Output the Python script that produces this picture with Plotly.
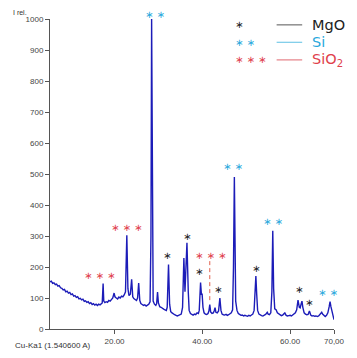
import plotly.graph_objects as go

# ---------------- data ----------------
two_theta = [5.3, 5.6, 5.9, 6.2, 6.5, 6.8, 7.1, 7.4, 7.7, 8.0, 8.3, 8.6, 8.9, 9.2, 9.5, 9.8,
             10.1, 10.4, 10.7, 11.0, 11.3, 11.6, 11.9, 12.2, 12.5, 12.8, 13.1, 13.4, 13.7, 14.0,
             14.3, 14.6, 14.9, 15.2, 15.5, 15.8, 16.1, 16.4, 16.7, 17.0, 17.2, 17.4, 17.55, 17.8,
             18.1, 18.4, 18.7, 19.0, 19.3, 19.6, 19.9, 20.1, 20.4, 20.7, 21.0, 21.3, 21.6, 21.9,
             22.2, 22.5, 22.8, 23.05, 23.3, 23.6, 23.9, 24.15, 24.4, 24.7, 25.0, 25.25, 25.5,
             25.75, 26.0, 26.3, 26.6, 26.9, 27.2, 27.5, 27.8, 28.1, 28.3, 28.45, 28.6, 28.8, 29.1,
             29.4, 29.6, 29.8, 30.0, 30.3, 30.6, 30.9, 31.2, 31.5, 31.8, 32.0, 32.3, 32.55, 32.8,
             33.1, 33.4, 33.7, 34.0, 34.3, 34.6, 34.9, 35.2, 35.5, 35.8, 36.05, 36.2, 36.5, 36.8,
             37.0, 37.3, 37.6, 37.9, 38.2, 38.5, 38.8, 39.1, 39.3, 39.6, 39.8, 39.95, 40.15, 40.4,
             40.7, 41.0, 41.3, 41.5, 41.7, 41.9, 42.2, 42.5, 42.7, 42.9, 43.1, 43.4, 43.7, 44.0,
             44.25, 44.5, 44.8, 45.1, 45.4, 45.7, 46.0, 46.3, 46.6, 46.9, 47.1, 47.3, 47.45, 47.6,
             47.9, 48.2, 48.5, 48.8, 49.1, 49.4, 49.7, 50.0, 50.3, 50.6, 50.9, 51.2, 51.5, 51.8,
             52.0, 52.2, 52.4, 52.6, 52.9, 53.2, 53.5, 53.8, 54.1, 54.4, 54.6, 54.8, 55.0, 55.3,
             55.6, 55.85, 56.05, 56.25, 56.5, 56.8, 57.1, 57.4, 57.7, 58.0, 58.3, 58.6, 58.8, 59.1,
             59.4, 59.7, 60.0, 60.3, 60.6, 60.9, 61.2, 61.5, 61.8, 62.1, 62.3, 62.5, 62.7, 62.9,
             63.2, 63.5, 63.8, 64.1, 64.4, 64.7, 65.0, 65.3, 65.6, 65.9, 66.2, 66.5, 66.8, 67.0,
             67.2, 67.4, 67.7, 68.0, 68.3, 68.6, 68.9, 69.1, 69.3, 69.6, 69.8, 70.0]
intensity = [152, 154, 147, 149, 143, 145, 138, 140, 133, 131, 126, 128, 120, 122, 116, 118,
             111, 113, 106, 108, 102, 104, 97, 99, 94, 96, 89, 91, 86, 88,
             82, 85, 79, 82, 77, 80, 76, 80, 78, 82, 84, 147, 90, 85,
             88, 86, 92, 90, 97, 100, 116, 104, 100, 97, 103, 100, 106, 104,
             110, 120, 302, 130, 108, 112, 160, 104, 98, 95, 92, 100, 148,
             92, 82, 79, 76, 78, 74, 77, 80, 88, 300, 1000, 300, 90, 80,
             76, 82, 119, 84, 72, 70, 66, 64, 62, 60, 70, 208, 80, 56,
             52, 48, 46, 44, 42, 44, 45, 48, 70, 229, 120, 160, 278, 120,
             60, 50, 46, 45, 48, 46, 52, 50, 60, 150, 110, 114, 70, 52,
             48, 47, 50, 58, 79, 55, 50, 52, 58, 69, 54, 52, 58, 100,
             60, 48, 46, 45, 47, 44, 46, 48, 52, 62, 200, 490, 300, 90,
             60, 50, 47, 44, 45, 42, 44, 43, 41, 44, 42, 45, 48, 60,
             110, 171, 110, 60, 48, 44, 43, 42, 44, 47, 50, 54, 48, 46,
             52, 120, 317, 130, 65, 62, 52, 48, 44, 43, 45, 50, 52, 44,
             42, 43, 44, 42, 45, 47, 52, 62, 93, 70, 68, 80, 90, 70,
             52, 48, 46, 47, 58, 45, 42, 43, 41, 42, 40, 42, 46, 50,
             54, 48, 42, 40, 44, 52, 72, 88, 72, 50, 38, 30]

# peak labels: position (2theta, I), phase
label_x = [29.15, 16.65, 22.8, 32.05, 36.5, 39.35, 41.9, 43.6, 47.1, 52.2, 56.05, 62.0, 64.4, 68.65]
label_y = [1000, 172, 329, 236, 299, 187, 236, 126, 524, 194, 347, 126, 85, 117]
label_shift = [5, 0, 0, 0, 0, 0, 0, 0, 0, 0, 0, 0, 0, 0]
label_phase = ["Si", "SiO2", "SiO2", "MgO", "MgO", "MgO", "SiO2", "MgO", "Si", "MgO", "Si", "MgO", "MgO", "Si"]

# dashed marker line for SiO2 peak
dash_x = [41.7, 41.7]
dash_y = [219, 92]

phases = ["MgO", "Si", "SiO2"]
phase_names = ["MgO", "Si", "SiO<sub>2</sub>"]
phase_marks = ["∗", "∗ ∗", "∗ ∗ ∗"]
phase_colors = {"MgO": "#222222", "Si": "#2aa8dc", "SiO2": "#e0404c"}
line_colors = {"MgO": "#555555", "Si": "#5cc0e4", "SiO2": "#e06870"}

x_ticks = [20, 40, 60, 70]
x_ticktext = ["20.00", "40.00", "60.00", "70,00"]
y_ticks = [0, 100, 200, 300, 400, 500, 600, 700, 800, 900, 1000]

# ---------------- figure ----------------
fig = go.Figure()
fig.add_trace(go.Scatter(x=two_theta, y=intensity, mode="lines",
                         line=dict(color="#1c1cb8", width=1.4), showlegend=False,
                         hoverinfo="skip", cliponaxis=False))
fig.add_trace(go.Scatter(x=dash_x, y=dash_y, mode="lines",
                         line=dict(color="#e0604c", width=1, dash="4px,3px"),
                         showlegend=False, hoverinfo="skip"))

mark_for = dict(zip(phases, phase_marks))
for lx, ly, sh, ph in zip(label_x, label_y, label_shift, label_phase):
    fig.add_annotation(x=lx, y=ly, xref="x", yref="y", text=mark_for[ph], yshift=sh,
                       showarrow=False, font=dict(family="DejaVu Sans", size=10,
                                                  color=phase_colors[ph]),
                       xanchor="center", yanchor="middle")

# legend (top right)
leg_y = [0.981, 0.925, 0.868]
for ph, nm, mk, yy in zip(phases, phase_names, phase_marks, leg_y):
    fig.add_annotation(x=0.643, y=yy, xref="paper", yref="paper", text=mk,
                       showarrow=False, xanchor="left", yanchor="middle",
                       font=dict(family="DejaVu Sans", size=10, color=phase_colors[ph]))
    fig.add_shape(type="line", xref="paper", yref="paper", x0=0.798, x1=0.888,
                  y0=yy, y1=yy, line=dict(color=line_colors[ph], width=1))
    fig.add_annotation(x=0.915, y=yy, xref="paper", yref="paper", text=nm,
                       showarrow=False, xanchor="left", yanchor="middle",
                       font=dict(family="DejaVu Sans", size=14.5, color=phase_colors[ph]))

fig.add_annotation(x=-0.107, y=1.022, xref="paper", yref="paper", text="I rel.",
                   showarrow=False, xanchor="center", yanchor="middle",
                   font=dict(family="Liberation Sans", size=7, color="#333333"))
fig.add_annotation(x=-0.131, y=-0.053, xref="paper", yref="paper",
                   text="Cu-Ka1 (1.540600 A)", showarrow=False,
                   xanchor="left", yanchor="middle",
                   font=dict(family="Liberation Sans", size=8, color="#333333"))

fig.update_layout(
    width=357, height=358,
    margin=dict(l=50, r=16, t=19, b=20),
    paper_bgcolor="white", plot_bgcolor="white",
    showlegend=False,
    xaxis=dict(range=[5.3, 70.0], tickvals=x_ticks, ticktext=x_ticktext,
               showgrid=False, zeroline=False, showline=True, linecolor="#555555",
               linewidth=1, ticks="outside", ticklen=4, tickcolor="#555555",
               tickfont=dict(family="Liberation Sans", size=8, color="#444444")),
    yaxis=dict(range=[0, 1000], tickvals=y_ticks,
               showgrid=False, zeroline=False, showline=True, linecolor="#555555",
               linewidth=1, ticks="outside", ticklen=4, tickcolor="#555555",
               tickfont=dict(family="Liberation Sans", size=8, color="#444444")),
)

fig.write_html("out.html")
